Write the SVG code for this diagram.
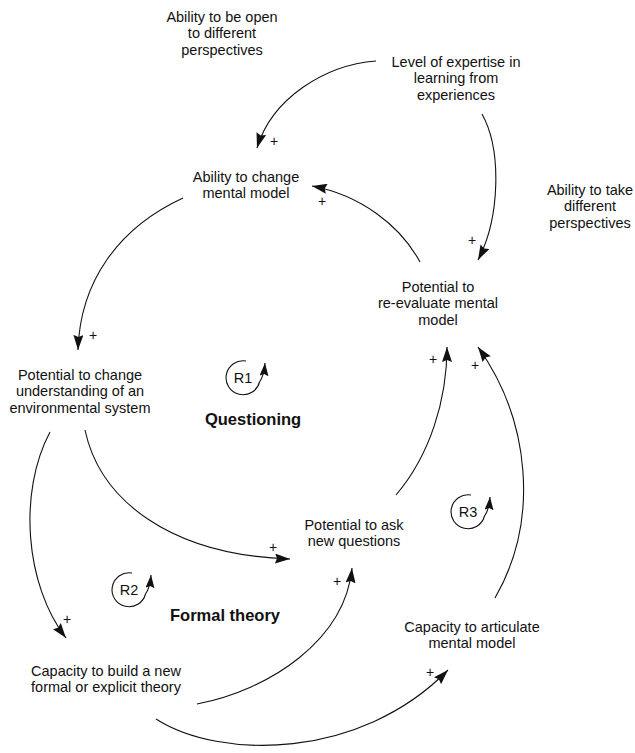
<svg xmlns="http://www.w3.org/2000/svg" width="635" height="753" viewBox="0 0 635 753">
<style>
  .lbl { font-family: "Liberation Sans", Arial, sans-serif; font-size: 14.5px; fill: #111; text-anchor: middle; }
  .loopname { font-family: "Liberation Sans", Arial, sans-serif; font-size: 16.5px; font-weight: bold; fill: #111; text-anchor: middle; }
  .pol { font-family: "Liberation Sans", Arial, sans-serif; font-size: 14px; fill: #111; text-anchor: middle; }
  .link { fill: none; stroke: #111; stroke-width: 1.1; marker-end: url(#arrow); }
  .loop { fill: none; stroke: #111; stroke-width: 1.1; marker-end: url(#arrowSmall); }
</style>
<defs>
  <marker id="arrow" markerUnits="userSpaceOnUse" markerWidth="16" markerHeight="10" refX="15" refY="5" orient="auto">
    <path d="M0,0 L15,5 L0,10 L2,5 z" fill="#111"/>
  </marker>
  <marker id="arrowSmall" markerUnits="userSpaceOnUse" markerWidth="14" markerHeight="10" refX="13" refY="4.5" orient="auto">
    <path d="M0,0 L13,4.5 L0,9 L2,4.5 z" fill="#111"/>
  </marker>
</defs>
<rect width="635" height="753" fill="#fff"/>

<g id="connectors">
  <path id="c1" class="link" d="M376,61 C325,65 272,98 257,148"/>
  <text class="pol" x="274" y="146">+</text>
  <path id="c2" class="link" d="M482,114 C502,150 500,218 478,260"/>
  <text class="pol" x="472" y="245">+</text>
  <path id="c3" class="link" d="M420,262 C400,225 360,195 312,186"/>
  <text class="pol" x="322" y="206">+</text>
  <path id="c4" class="link" d="M183,198 C118,228 80,282 78,350"/>
  <text class="pol" x="93" y="340">+</text>
  <path id="c5" class="link" d="M50,432 C18,492 25,585 66,638"/>
  <text class="pol" x="67" y="624">+</text>
  <path id="c6" class="link" d="M85,430 C100,500 170,555 290,559"/>
  <text class="pol" x="273" y="552">+</text>
  <path id="c7" class="link" d="M396,495 C430,455 447,400 447,347"/>
  <text class="pol" x="433" y="364">+</text>
  <path id="c8" class="link" d="M495,598 C540,520 530,420 478,347"/>
  <text class="pol" x="475" y="370">+</text>
  <path id="c9" class="link" d="M197,704 C270,690 345,640 352,568"/>
  <text class="pol" x="337" y="586">+</text>
  <path id="c10" class="link" d="M156,719 C220,760 360,760 448,670"/>
  <text class="pol" x="430" y="677">+</text>
</g>

<g id="open-perspectives">
  <text class="lbl" x="222" y="21.5">Ability to be open</text>
  <text class="lbl" x="222" y="38">to different</text>
  <text class="lbl" x="222" y="54.5">perspectives</text>
</g>
<g id="expertise">
  <text class="lbl" x="456" y="66.5">Level of expertise in</text>
  <text class="lbl" x="456" y="83">learning from</text>
  <text class="lbl" x="456" y="99.5">experiences</text>
</g>
<g id="take-perspectives">
  <text class="lbl" x="590" y="194.5">Ability to take</text>
  <text class="lbl" x="590" y="211">different</text>
  <text class="lbl" x="590" y="227.5">perspectives</text>
</g>
<g id="change-mental-model">
  <text class="lbl" x="246" y="181.5">Ability to change</text>
  <text class="lbl" x="246" y="198">mental model</text>
</g>
<g id="re-evaluate">
  <text class="lbl" x="438" y="291.5">Potential to</text>
  <text class="lbl" x="438" y="308">re-evaluate mental</text>
  <text class="lbl" x="438" y="324.5">model</text>
</g>
<g id="change-understanding">
  <text class="lbl" x="80" y="379.5">Potential to change</text>
  <text class="lbl" x="80" y="396">understanding of an</text>
  <text class="lbl" x="80" y="412.5">environmental system</text>
</g>
<g id="ask-questions">
  <text class="lbl" x="354" y="529.5">Potential to ask</text>
  <text class="lbl" x="354" y="546">new questions</text>
</g>
<g id="articulate">
  <text class="lbl" x="472" y="631.5">Capacity to articulate</text>
  <text class="lbl" x="472" y="648">mental model</text>
</g>
<g id="build-theory">
  <text class="lbl" x="106" y="675.5">Capacity to build a new</text>
  <text class="lbl" x="106" y="692">formal or explicit theory</text>
</g>

<g id="loop-R1">
  <path class="loop" transform="translate(243,378)" d="M3,-17 A17 17 0 1 0 16.5,4 Q21,-2 22,-15"/>
  <text class="lbl" x="243" y="383">R1</text>
  <text class="loopname" x="253" y="425">Questioning</text>
</g>
<g id="loop-R2">
  <path class="loop" transform="translate(129,590)" d="M3,-17 A17 17 0 1 0 16.5,4 Q21,-2 22,-15"/>
  <text class="lbl" x="129" y="595">R2</text>
  <text class="loopname" x="225" y="621">Formal theory</text>
</g>
<g id="loop-R3">
  <path class="loop" transform="translate(468,512)" d="M3,-17 A17 17 0 1 0 16.5,4 Q21,-2 22,-15"/>
  <text class="lbl" x="468" y="517">R3</text>
</g>
</svg>
